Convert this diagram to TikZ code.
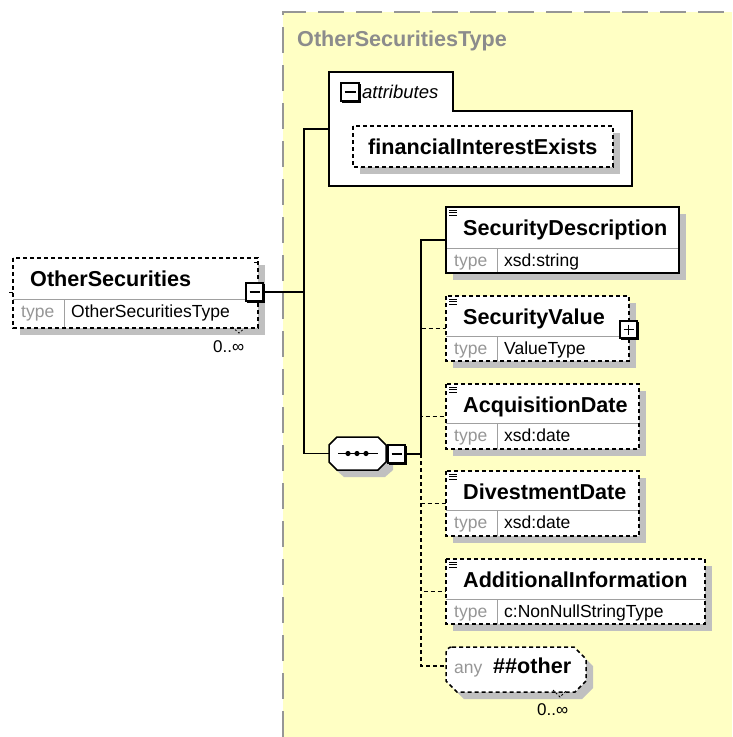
\documentclass[tikz,border=0pt]{standalone}
\usepackage{fontspec}
\setmainfont{Liberation Sans}
\usetikzlibrary{fit}
\definecolor{yfill}{RGB}{255,255,196}
\definecolor{yline}{RGB}{150,150,150}
\definecolor{shadowc}{RGB}{192,192,192}
\definecolor{divc}{RGB}{160,160,160}
\definecolor{greyt}{RGB}{150,150,150}
\definecolor{titleg}{RGB}{140,140,140}
\tikzset{
  sboxfill/.style={fill=white, inner sep=0pt, outer sep=0pt},
  solidb/.style={draw=black, line width=1.5pt},
  dashb/.style={draw=black, line width=1.5pt, dash pattern=on 4pt off 3pt},
  divline/.style={draw=divc, line width=1pt},
  titlet/.style={anchor=base west, inner sep=0pt, font=\bfseries\fontsize{21.6}{24}\selectfont},
  typet/.style={anchor=base west, inner sep=0pt, text=greyt, font=\fontsize{17.5}{20}\selectfont},
  valt/.style={anchor=base west, inner sep=0pt, font=\fontsize{17.5}{20}\selectfont},
  occt/.style={anchor=base west, inner sep=0pt, font=\fontsize{17}{20}\selectfont},
  icon/.style={draw=black, line width=0.8pt},
  conn/.style={draw=black, line width=1.3pt},
  dconn/.style={draw=black, line width=1.3pt, dash pattern=on 4pt off 3pt},
  ctrlbox/.style={fill=white, draw=black, line width=1.5pt, inner sep=0pt, outer sep=0pt},
}
% element box: 1 name, 2 x1, 3 y1, 4 x2, 5 y2, 6 ydiv, 7 title, 8 type, 9 border style
\newcommand\xelem[9]{%
  \fill[shadowc] ({#2+7},{#3+7}) rectangle ({#4+7},{#5+7});
  \node[sboxfill, fit={(#2,#3) (#4,#5)}] (#1) {};
  \draw[divline] (#2,#6) -- (#4,#6) ({#2+51},#6) -- ({#2+51},#5);
  \draw[#9] (#1.north west) rectangle (#1.south east);
  \node[titlet] (#1-t) at ({#2+17},{#3+28}) {#7};
  \node[typet] (#1-k) at ({#2+8},{#6+18}) {type};
  \node[valt] (#1-v) at ({#2+58},{#6+18}) {#8};
}
% documentation icon at top-left corner of a box
\newcommand\xicon[2]{%
  \draw[icon] ({#1+3},{#2+3}) -- ++(8,0) ({#1+3},{#2+5.5}) -- ++(8,0) ({#1+3},{#2+8}) -- ++(8,0);
}
% minus control box: 1 name, 2 x1, 3 y1, 4 x2, 5 y2
\newcommand\xctrl[5]{%
  \node[ctrlbox, fit={(#2,#3) (#4,#5)}] (#1) {};
  \draw[black, line width=1.6pt] ({#2+1},{#5+1.2}) -- ({#4+1.2},{#5+1.2}) -- ({#4+1.2},{#3+1});
  \draw[black, line width=1.2pt] ({#2+3.5},{(#3+#5)/2}) -- ({#4-3.5},{(#3+#5)/2});
}
\begin{document}
\begin{tikzpicture}[x=1pt,y=-1pt]
\useasboundingbox (0,0) rectangle (732,737);
% complex type area
\fill[yfill] (283,12) rectangle (732,737);
\draw[yline, line width=1.8pt, dash pattern=on 26pt off 12pt] (283,737) -- (283,12) -- (732,12);
\node[anchor=base west, inner sep=0pt, text=titleg, font=\bfseries\fontsize{21.6}{24}\selectfont] (tname) at (297,46) {OtherSecuritiesType};

% OtherSecurities element
\xelem{os}{13}{258}{258}{328}{299}{OtherSecurities}{OtherSecuritiesType}{dashb}
\draw[black, line width=1pt] (9,292) -- (13,292) (254,262.5) -- (258,262.5);
\draw[black, line width=0.8pt, dash pattern=on 2pt off 2pt] (232,327) -- (239,333) -- (246,327);
\node[occt] (osocc) at (213,352) {0..∞};
\xctrl{osm}{246}{283}{263}{301}

% attributes box
\fill[white] (329,111) -- (329,72) -- (453,72) -- (453,111) -- (632,111) -- (632,186) -- (329,186) -- cycle;
\draw[solidb] (329,111) -- (329,72) -- (453,72) -- (453,111) -- (632,111) -- (632,186) -- (329,186) -- cycle;
\node[inner sep=0pt, outer sep=0pt, fit={(329,72) (632,186)}] (attr) {};
\xctrl{attrm}{341}{83}{359}{101}
\node[anchor=base west, inner sep=0pt, font=\itshape\fontsize{18.5}{20}\selectfont] (attrt) at (362,98) {attributes};
\fill[shadowc] (360,133) rectangle (620,174);
\node[sboxfill, fit={(353,126) (613,167)}] (fie) {};
\draw[dashb] (fie.north west) rectangle (fie.south east);
\node[titlet] (fie-t) at (368,154) {financialInterestExists};

% sequence compositor
\fill[shadowc] (344,444) -- (386,444) -- (393,451) -- (393,470) -- (385,477) -- (344,477) -- (336,470) -- (336,451) -- cycle;
\fill[white] (337,437) -- (378,437) -- (386,445) -- (386,462) -- (378,470) -- (337,470) -- (329,462) -- (329,445) -- cycle;
\draw[black, line width=1.5pt] (337,437) -- (378,437) -- (386,445) -- (386,462) -- (378,470) -- (337,470) -- (329,462) -- (329,445) -- cycle;
\node[inner sep=0pt, outer sep=0pt, fit={(329,437) (386,470)}] (seq) {};
\draw[black, line width=1.3pt] (338,453.5) -- (378,453.5);
\foreach \dx in {348,357,366} \fill[black] (\dx,453.5) circle (2.6pt);
\xctrl{seqm}{388}{445}{405}{463}

% child elements
\xelem{sd}{446}{207}{679}{273}{248}{SecurityDescription}{xsd:string}{solidb}
\xicon{446}{207}
\xelem{sv}{446}{296}{629}{361}{336}{SecurityValue}{ValueType}{dashb}
\xicon{446}{296}
\xctrl{svp}{620}{321}{637}{338}
\draw[black, line width=1.2pt] (628.5,324.5) -- (628.5,334.5);
\xelem{ad}{446}{384}{639}{449}{423}{AcquisitionDate}{xsd:date}{dashb}
\xicon{446}{384}
\xelem{dd}{446}{471}{639}{536}{510}{DivestmentDate}{xsd:date}{dashb}
\xicon{446}{471}
\xelem{ai}{446}{559}{705}{624}{599}{AdditionalInformation}{c:NonNullStringType}{dashb}
\xicon{446}{559}

% any ##other
\fill[shadowc] (459,654) -- (581,654) -- (593,666) -- (593,688) -- (582,699) -- (464,699) -- (453,688) -- (453,660) -- cycle;
\fill[white] (452,647) -- (574,647) -- (586,659) -- (586,681) -- (575,692) -- (457,692) -- (446,681) -- (446,653) arc[start angle=180, end angle=90, radius=6pt] -- cycle;
\draw[dashb] (452,647) -- (574,647) -- (586,659) -- (586,681) -- (575,692) -- (457,692) -- (446,681) -- (446,653) arc[start angle=180, end angle=90, radius=6pt] -- cycle;
\node[inner sep=0pt, outer sep=0pt, fit={(446,647) (586,692)}] (any) {};
\coordinate (anyin) at (446,666);
\node[typet] (any-k) at (454,673) {any};
\node[titlet] (any-t) at (493,673) {\#\#other};
\draw[black, line width=0.8pt, dash pattern=on 2pt off 2pt] (553,690) -- (560,697) -- (567,690);
\node[occt] (anyocc) at (537,715) {0..∞};

% connectors
\coordinate (jn) at (304,292);
\coordinate (sj) at (421,454);
\draw[conn] (osm.east) -- (jn);
\draw[conn] (attr.west) -| (jn) |- (seq.west);
\draw[conn] (seqm.east) -- (sj);
\draw[conn] (sj) |- (sd.west);
\draw[dconn] (sj) |- (sv.west);
\draw[dconn] (sj) |- (ad.west);
\draw[dconn] (sj) |- (dd.west);
\draw[dconn] (sj) |- (ai.west);
\draw[dconn] (sj) |- (anyin);
\end{tikzpicture}
\end{document}
